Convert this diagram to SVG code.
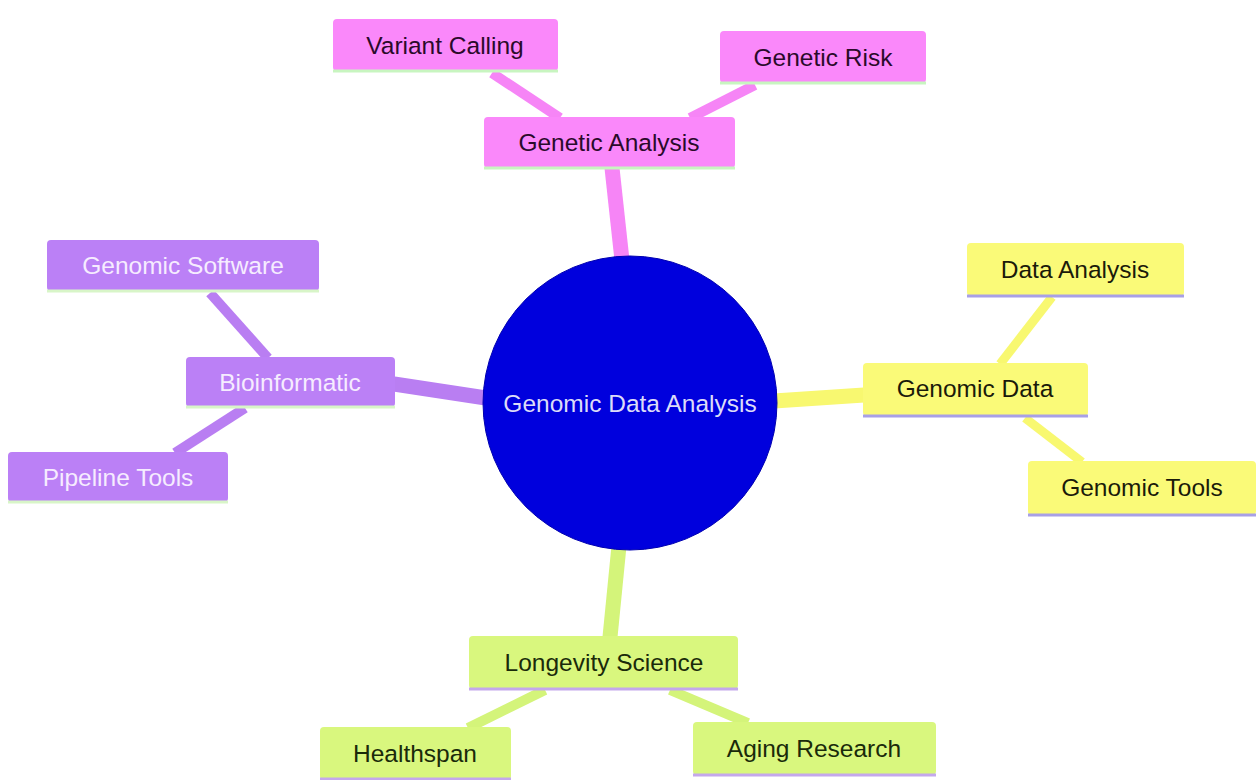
<svg xmlns="http://www.w3.org/2000/svg" width="1256" height="780" viewBox="0 0 1256 780">
<style>
text{font-family:"Liberation Sans",Arial,sans-serif;font-size:24.5px;text-anchor:middle;dominant-baseline:central}
.pk rect.b{fill:#fa88fa}.pk .u{stroke:#c8f5c0}.pk text{fill:#2a0a2a}
.pu rect.b{fill:#bb80f6}.pu .u{stroke:#d8f5c8}.pu text{fill:#f6ecff}
.ye rect.b{fill:#fafa78}.ye .u{stroke:#a8a0e6}.ye text{fill:#1a1a0a}
.gr rect.b{fill:#d9f77e}.gr .u{stroke:#c4a8ec}.gr text{fill:#1a2a0a}
.u{stroke-width:3;fill:none}
#edges line{stroke-linecap:butt}
.ep{stroke:#f685f6}.epu{stroke:#b97ef2}.ey{stroke:#f8f870}.eg{stroke:#d4f47a}
</style>
<rect width="1256" height="780" fill="#ffffff"/>
<g id="edges">
<line class="ep" x1="612" y1="168" x2="622" y2="260" stroke-width="15"/>
<line class="ep" x1="492" y1="73" x2="560" y2="118" stroke-width="10"/>
<line class="ep" x1="755" y1="85" x2="690" y2="118" stroke-width="10"/>
<line class="epu" x1="394" y1="384" x2="486" y2="398" stroke-width="15"/>
<line class="epu" x1="210" y1="293" x2="268" y2="358" stroke-width="10"/>
<line class="epu" x1="175" y1="453" x2="245" y2="408" stroke-width="10"/>
<line class="ey" x1="774" y1="401" x2="864" y2="395" stroke-width="15"/>
<line class="ey" x1="1052" y1="297" x2="1000" y2="364" stroke-width="9"/>
<line class="ey" x1="1025" y1="418" x2="1082" y2="462" stroke-width="9"/>
<line class="eg" x1="619" y1="546" x2="610" y2="637" stroke-width="15"/>
<line class="eg" x1="545" y1="690" x2="468" y2="728" stroke-width="10"/>
<line class="eg" x1="670" y1="690" x2="748" y2="723" stroke-width="10"/>
</g>
<g id="root">
<circle cx="630" cy="403" r="147" fill="#0000dd" stroke="#0000b0" stroke-width="1"/>
<text x="630" y="403" fill="#dcdcf8">Genomic Data Analysis</text>
</g>
<g id="genetic-analysis" class="pk"><rect class="b" x="484" y="117" width="251" height="51" rx="4"/><line class="u" x1="484" y1="168" x2="735" y2="168"/><text x="609" y="142">Genetic Analysis</text></g>
<g id="variant-calling" class="pk"><rect class="b" x="333" y="19" width="225" height="52" rx="4"/><line class="u" x1="333" y1="71" x2="558" y2="71"/><text x="445" y="45">Variant Calling</text></g>
<g id="genetic-risk" class="pk"><rect class="b" x="720" y="31" width="206" height="52" rx="4"/><line class="u" x1="720" y1="83" x2="926" y2="83"/><text x="823" y="57">Genetic Risk</text></g>
<g id="bioinformatic" class="pu"><rect class="b" x="186" y="357" width="209" height="50" rx="4"/><line class="u" x1="186" y1="407" x2="395" y2="407"/><text x="290" y="382">Bioinformatic</text></g>
<g id="genomic-software" class="pu"><rect class="b" x="47" y="240" width="272" height="51" rx="4"/><line class="u" x1="47" y1="291" x2="319" y2="291"/><text x="183" y="265">Genomic Software</text></g>
<g id="pipeline-tools" class="pu"><rect class="b" x="8" y="452" width="220" height="50" rx="4"/><line class="u" x1="8" y1="502" x2="228" y2="502"/><text x="118" y="477">Pipeline Tools</text></g>
<g id="genomic-data" class="ye"><rect class="b" x="863" y="363" width="225" height="53" rx="4"/><line class="u" x1="863" y1="416" x2="1088" y2="416"/><text x="975" y="388">Genomic Data</text></g>
<g id="data-analysis" class="ye"><rect class="b" x="967" y="243" width="217" height="53" rx="4"/><line class="u" x1="967" y1="296" x2="1184" y2="296"/><text x="1075" y="269">Data Analysis</text></g>
<g id="genomic-tools" class="ye"><rect class="b" x="1028" y="461" width="228" height="54" rx="4"/><line class="u" x1="1028" y1="515" x2="1256" y2="515"/><text x="1142" y="487">Genomic Tools</text></g>
<g id="longevity-science" class="gr"><rect class="b" x="469" y="636" width="269" height="53" rx="4"/><line class="u" x1="469" y1="689" x2="738" y2="689"/><text x="604" y="662">Longevity Science</text></g>
<g id="healthspan" class="gr"><rect class="b" x="320" y="727" width="191" height="53" rx="4"/><line class="u" x1="320" y1="779" x2="511" y2="779"/><text x="415" y="753">Healthspan</text></g>
<g id="aging-research" class="gr"><rect class="b" x="693" y="722" width="243" height="53" rx="4"/><line class="u" x1="693" y1="775" x2="936" y2="775"/><text x="814" y="748">Aging Research</text></g>
</svg>
